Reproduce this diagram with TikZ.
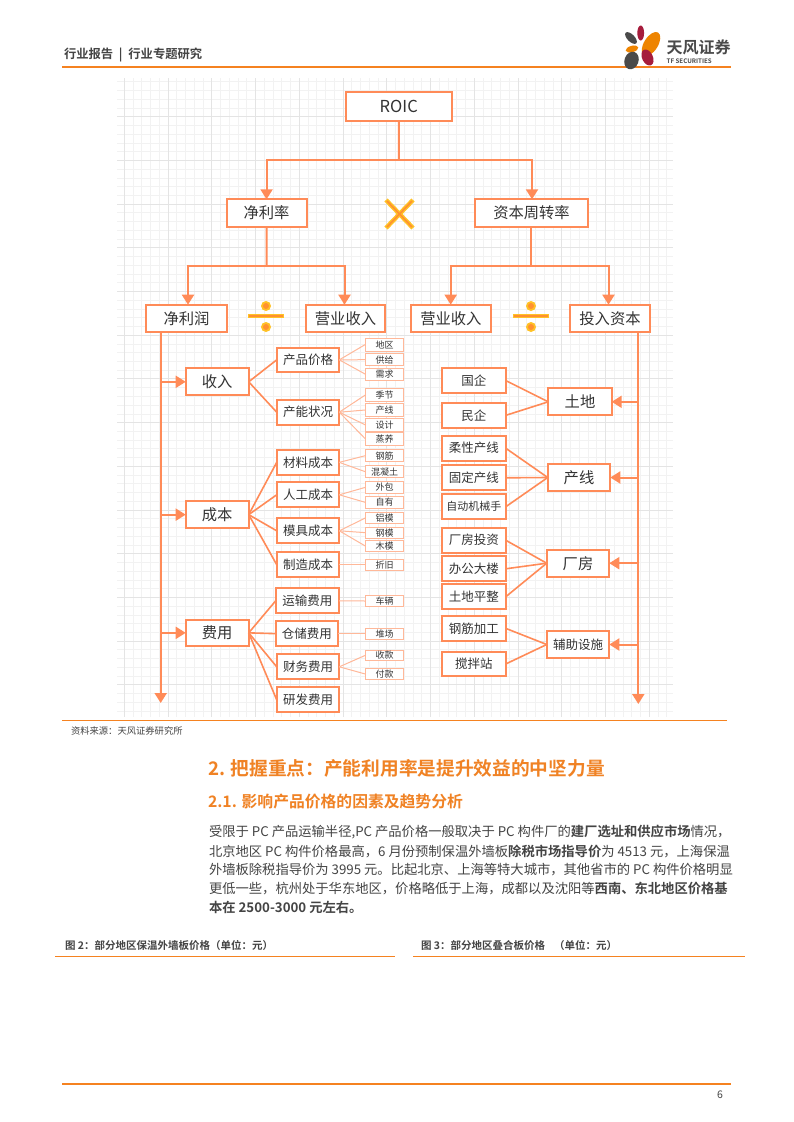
\documentclass[tikz,border=0pt]{standalone}
\usepackage{fontspec}
\usetikzlibrary{arrows.meta}
\setmainfont{Noto Sans CJK SC}[BoldFont={Noto Sans CJK SC Bold}]
\definecolor{conn}{HTML}{FF8B58}
\definecolor{connlight}{HTML}{FFB899}
\definecolor{rulec}{HTML}{F58220}
\definecolor{headc}{HTML}{F08224}
\definecolor{inkc}{HTML}{333333}
\definecolor{bodyc}{HTML}{444444}
\definecolor{gmaj}{HTML}{E4E4E4}
\definecolor{gmin}{HTML}{F2F2F2}
\definecolor{crim}{HTML}{A61C3C}
\definecolor{darkp}{HTML}{4A4A4A}
\definecolor{oranp}{HTML}{EE8400}
\definecolor{halo}{HTML}{FFC226}
\definecolor{core}{HTML}{FF9130}
\tikzset{
  boxa/.style={draw=conn,fill=white,line width=2pt,inner sep=0pt,outer sep=0pt,text=inkc,font=\fontsize{15.3}{15}\selectfont},
  boxb/.style={draw=conn,fill=white,line width=2pt,inner sep=0pt,outer sep=0pt,text=inkc,font=\fontsize{12.5}{13}\selectfont},
  boxc/.style={draw=connlight,fill=white,line width=1pt,inner sep=0pt,outer sep=0pt,text=inkc,font=\fontsize{9}{9}\selectfont},
  conma/.style={draw=conn,line width=2pt},
  conmb/.style={draw=conn,line width=1.6pt},
  conmc/.style={draw=connlight,line width=1pt},
  arr/.style={conma,-{Triangle[length=10pt,width=12pt]}},
  txt/.style={inner sep=0pt,outer sep=0pt,anchor=west},
  body/.style={txt,text=bodyc,font=\fontsize{13.3}{14}\selectfont},
  rulel/.style={draw=rulec,line width=1.2pt},
}
\newcommand{\bx}[7]{\node[#1,minimum width={(#5-#3)*1pt},minimum height={(#6-#4)*1pt}] (#2) at ({(#3+#5)/2},{(#4+#6)/2}) {#7};}
\newcommand{\divsign}[2]{%
  \draw[halo,line width=4pt] ({#1-18},#2) -- ({#1+18},#2);
  \draw[core,line width=1.5pt] ({#1-17},#2) -- ({#1+17},#2);
  \fill[halo] (#1,{#2-10}) circle (5pt);
  \fill[core] (#1,{#2-10}) circle (3pt);
  \fill[halo] (#1,{#2+11}) circle (5pt);
  \fill[core] (#1,{#2+11}) circle (3pt);}
\begin{document}
\begin{tikzpicture}[x=1pt,y=-1pt]
\useasboundingbox (0,0) rectangle (793,1122);
\fill[white] (0,0) rectangle (793,1122);
% grid
\foreach \i in {0,...,62}{
  \pgfmathsetmacro\gx{124.2+8.75*\i}
  \pgfmathtruncatemacro\gm{mod(\i,5)}
  \ifnum\gm=0\else\draw[gmin,line width=.7pt] (\gx,78) -- (\gx,716.7);\fi}
\foreach \i in {1,...,73}{
  \pgfmathsetmacro\gy{73+8.74*\i}
  \pgfmathtruncatemacro\gm{mod(\i,5)}
  \ifnum\gm=0\else\draw[gmin,line width=.7pt] (117,\gy) -- (673,\gy);\fi}
\foreach \i in {0,5,...,60}{
  \pgfmathsetmacro\gx{124.2+8.75*\i}
  \draw[gmaj,line width=.9pt] (\gx,78) -- (\gx,716.7);}
\foreach \i in {5,10,...,70}{
  \pgfmathsetmacro\gy{73+8.74*\i}
  \draw[gmaj,line width=.9pt] (117,\gy) -- (673,\gy);}
% header
\node[txt,text=bodyc,font=\fontsize{12.3}{13}\bfseries\selectfont] (hdr) at (64,55) {行业报告\hspace{3pt} | \hspace{3pt}行业专题研究};
\draw[rulec,line width=2pt] (62,67) -- (731,67);
\fill[darkp,shift={(631,38)},rotate=-45] (0,0) ellipse (7.5pt and 3.6pt);
\fill[crim,shift={(640.7,33)},rotate=90] (0,0) ellipse (7.5pt and 3.4pt);
\fill[oranp,shift={(651,44)},rotate=58] (0,0) ellipse (13.5pt and 7pt);
\fill[oranp,shift={(632,49)},rotate=15] (0,0) ellipse (6.5pt and 3.2pt);
\fill[crim,shift={(647.5,57.5)},rotate=-65] (0,0) ellipse (8.5pt and 5.4pt);
\fill[darkp,shift={(631.5,60.5)},rotate=70] (0,0) ellipse (9pt and 7pt);
\node[txt,text=darkp,font=\fontsize{16}{16}\bfseries\selectfont] (brand) at (666.7,47) {天风证券};
\node[txt,text=darkp,font=\fontsize{6.2}{7}\bfseries\selectfont] (brand2) at (666.7,61) {TF SECURITIES};
% top tree
\bx{boxa}{roic}{345.5}{91.5}{452}{120.5}{\fontsize{16.5}{16}\selectfont ROIC}
\bx{boxa}{jll}{226.6}{199.3}{306.5}{226.7}{净利率}
\bx{boxa}{zbz}{475}{199.3}{588}{226.7}{资本周转率}
\bx{boxa}{jlr}{146.3}{304.7}{226.7}{332}{净利润}
\bx{boxa}{ysa}{305.7}{304.7}{385.3}{332}{营业收入}
\bx{boxa}{ysb}{410.7}{304.7}{491}{332}{营业收入}
\bx{boxa}{trz}{570}{304.7}{650}{332}{投入资本}
\coordinate (j0) at (399,160);
\coordinate (j1) at (266.6,266);
\coordinate (j2) at (530.6,266);
\draw[conma] (roic.south) -- (j0);
\draw[arr] (j0) -| (jll.north);
\draw[arr] (j0) -| (532,199.3);
\draw[conma] (jll.south) -- (j1);
\draw[conma] (530.6,226.7) -- (j2);
\draw[arr] (j1) -| (188,304.7);
\draw[arr] (j1) -| (344.5,304.7);
\draw[arr] (j2) -| (450.7,304.7);
\draw[arr] (j2) -| (608.5,304.7);
% signs
\draw[halo,line width=4.4pt] (386,200) -- (413,228) (413,200) -- (386,228);
\draw[core,line width=1.6pt] (387,201) -- (412,227) (412,201) -- (387,227);
\divsign{266}{316}
\divsign{531}{316}
% left level 1
\bx{boxa}{sr}{185.7}{368.3}{248.7}{395.3}{收入}
\bx{boxa}{cb}{185.7}{501.3}{248.7}{528}{成本}
\bx{boxa}{fy}{185.7}{619.7}{248.7}{646}{费用}
% left level 2
\bx{boxb}{cpjg}{276.7}{347.7}{339.3}{372}{产品价格}
\bx{boxb}{cnzk}{276.7}{399.7}{339.3}{424.7}{产能状况}
\bx{boxb}{clcb}{276.7}{450}{339.3}{474.7}{材料成本}
\bx{boxb}{rgcb}{276.7}{482.3}{339.3}{507.3}{人工成本}
\bx{boxb}{mjcb}{276.7}{518.3}{339.3}{543.3}{模具成本}
\bx{boxb}{zzcb}{276.7}{552.3}{339.3}{577}{制造成本}
\bx{boxb}{ysfy}{275.7}{588.3}{339}{613.3}{运输费用}
\bx{boxb}{ccfy}{275.7}{621.3}{338}{646}{仓储费用}
\bx{boxb}{cwfy}{276.7}{654.3}{339.3}{679.3}{财务费用}
\bx{boxb}{yffy}{276.7}{687.3}{339.3}{712.3}{研发费用}
% left level 3
\bx{boxc}{c1}{365.3}{338}{403.7}{351}{地区}
\bx{boxc}{c2}{365.3}{353.7}{403.7}{365.7}{供给}
\bx{boxc}{c3}{365.3}{368}{403.7}{380.3}{需求}
\bx{boxc}{c4}{365.3}{388.7}{403.7}{401.3}{季节}
\bx{boxc}{c5}{365.3}{403.7}{403.7}{416.3}{产线}
\bx{boxc}{c6}{365.3}{418.7}{403.7}{431}{设计}
\bx{boxc}{c7}{365.3}{432.3}{403.7}{445.3}{蒸养}
\bx{boxc}{c8}{365.3}{449.7}{403.7}{461.7}{钢筋}
\bx{boxc}{c9}{365.3}{465.7}{403.7}{477.7}{混凝土}
\bx{boxc}{c10}{365.3}{481}{403.7}{493.7}{外包}
\bx{boxc}{c11}{365.3}{496}{403.7}{508.7}{自有}
\bx{boxc}{c12}{365.3}{512.7}{403.7}{523.3}{铝模}
\bx{boxc}{c13}{365.3}{527.3}{403.7}{538}{钢模}
\bx{boxc}{c14}{365.3}{540.7}{403.7}{551.3}{木模}
\bx{boxc}{c15}{365.3}{559.3}{403.7}{570}{折旧}
\bx{boxc}{c16}{365.3}{595.7}{403.7}{606.3}{车辆}
\bx{boxc}{c17}{365.3}{628.3}{403.7}{639}{堆场}
\bx{boxc}{c18}{365.3}{650}{403.7}{660.7}{收款}
\bx{boxc}{c19}{365.3}{668.7}{403.7}{679.3}{付款}
% left connectors
\foreach \a/\b in {sr/cpjg,sr/cnzk,cb/clcb,cb/rgcb,cb/mjcb,cb/zzcb,fy/ysfy,fy/ccfy,fy/cwfy,fy/yffy}
  \draw[conmb] (\a.east) -- (\b.west);
\foreach \a/\b in {cpjg/c1,cpjg/c2,cpjg/c3,cnzk/c4,cnzk/c5,cnzk/c6,cnzk/c7,clcb/c8,clcb/c9,rgcb/c10,rgcb/c11,mjcb/c12,mjcb/c13,mjcb/c14,zzcb/c15,ysfy/c16,ccfy/c17,cwfy/c18,cwfy/c19}
  \draw[conmc] (\a.east) -- (\b.west);
\coordinate (lt) at (160.7,332);
\coordinate (lb) at (160.7,703);
\draw[arr] (lt) -- (lb);
\foreach \b in {sr,cb,fy}
  \draw[arr] (lt |- \b.west) -- (\b.west);
% right side
\bx{boxb}{gq}{442}{368.3}{505.7}{392.7}{国企}
\bx{boxb}{mq}{442}{402.7}{505.7}{428}{民企}
\bx{boxb}{rx}{442}{435.7}{505.7}{460.7}{柔性产线}
\bx{boxb}{gd}{442}{465.3}{505.7}{490.3}{固定产线}
\bx{boxb}{zd}{442}{494.3}{505.7}{519.3}{\fontsize{11}{11}\selectfont 自动机械手}
\bx{boxb}{cf}{442}{527.7}{505.7}{552.7}{厂房投资}
\bx{boxb}{bg}{442}{556.3}{505.7}{581.3}{办公大楼}
\bx{boxb}{td}{442}{584.3}{505.7}{609.3}{土地平整}
\bx{boxb}{gj}{442}{616}{505.7}{640.7}{钢筋加工}
\bx{boxb}{jb}{442}{651.7}{505.7}{676.3}{搅拌站}
\bx{boxa}{tu}{548.3}{388.3}{611.7}{415.3}{土地}
\bx{boxa}{cx}{547.7}{464}{610.3}{491}{产线}
\bx{boxa}{cg}{546.7}{549.7}{609.3}{576.7}{厂房}
\bx{boxb}{fz}{546.7}{631}{609.3}{658}{辅助设施}
\foreach \a/\b in {gq/tu,mq/tu,rx/cx,gd/cx,zd/cx,cf/cg,bg/cg,td/cg,gj/fz,jb/fz}
  \draw[conmb] (\a.east) -- (\b.west);
\coordinate (rt) at (638.3,332);
\coordinate (rb) at (638.3,704);
\draw[arr] (rt) -- (rb);
\foreach \b in {tu,cx,cg,fz}
  \draw[arr] (rt |- \b.east) -- (\b.east);
% footer of figure
\draw[rulel] (62,720.3) -- (727,720.3);
\node[txt,text=bodyc,font=\fontsize{9.3}{10}\selectfont] (src) at (71,731) {资料来源：天风证券研究所};
% headings
\node[txt,text=headc,font=\fontsize{18.7}{19}\bfseries\selectfont] (h1) at (208,768) {2. 把握重点：产能利用率是提升效益的中坚力量};
\node[txt,text=headc,font=\fontsize{15.8}{16}\bfseries\selectfont] (h2) at (208,802) {2.1. 影响产品价格的因素及趋势分析};
% body
\node[body] (l1) at (209,832) {受限于 PC 产品运输半径,PC 产品价格一般取决于 PC 构件厂的\textbf{建厂选址和供应市场}情况，};
\node[body] (l2) at (209,851) {北京地区 PC 构件价格最高，6 月份预制保温外墙板\textbf{除税市场指导价}为 4513 元，上海保温};
\node[body] (l3) at (209,869.5) {外墙板除税指导价为 3995 元。比起北京、上海等特大城市，其他省市的 PC 构件价格明显};
\node[body] (l4) at (209,888) {更低一些，杭州处于华东地区，价格略低于上海，成都以及沈阳等\textbf{西南、东北地区价格基}};
\node[body] (l5) at (209,907) {\textbf{本在 2500-3000 元左右。}};
% captions
\node[txt,text=bodyc,font=\fontsize{10.5}{11}\bfseries\selectfont] (f2) at (65,945) {图 2：部分地区保温外墙板价格（单位：元）};
\node[txt,text=bodyc,font=\fontsize{10.5}{11}\bfseries\selectfont] (f3) at (421,945) {图 3：部分地区叠合板价格\hspace{9pt}（单位：元）};
\draw[rulel] (55.4,956.3) -- (394.6,956.3);
\draw[rulel] (413,956.3) -- (745,956.3);
\draw[rulel] (62,1084) -- (731,1084);
\node[txt,text=bodyc,font=\fontsize{10.5}{11}\selectfont] (pg) at (717,1095) {6};
\end{tikzpicture}
\end{document}
